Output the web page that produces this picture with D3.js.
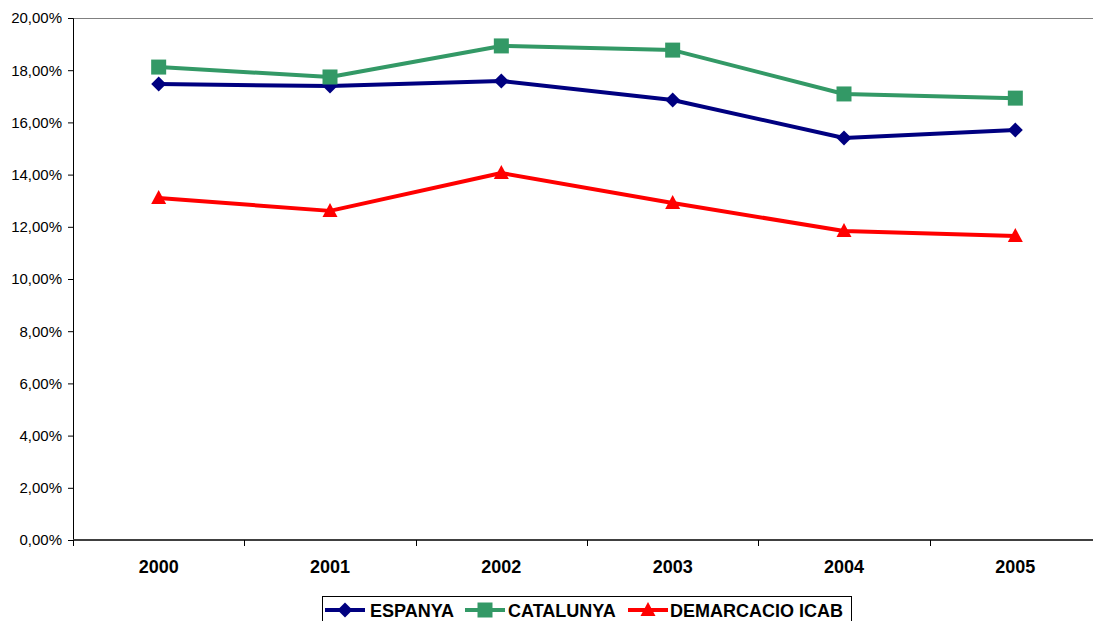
<!DOCTYPE html>
<html><head><meta charset="utf-8">
<script src="https://cdn.jsdelivr.net/npm/d3@7"></script>
<style>body{margin:0;background:#fff}svg{display:block}text{font-family:"Liberation Sans",Arial,sans-serif}</style>
</head><body><svg id="c" width="1093" height="621"></svg>
<script>
const years = ["2000","2001","2002","2003","2004","2005"];
const espanya = [17.47, 17.39, 17.59, 16.86, 15.40, 15.71];
const catalunya = [18.12, 17.74, 18.93, 18.77, 17.09, 16.93];
const demarcacio = [13.10, 12.61, 14.06, 12.91, 11.84, 11.65];
const yTicks = [0,2,4,6,8,10,12,14,16,18,20];
const seriesNames = ["ESPANYA","CATALUNYA","DEMARCACIO ICAB"];

const diamond = "M0,-7.5L7.5,0L0,7.5L-7.5,0Z";
const square = "M-7.5,-7.5H7.5V7.5H-7.5Z";
const triangle = "M0,-8L7.5,6L-7.5,6Z";
const series = [
  {name: seriesNames[0], values: espanya, color: "#000080", sym: diamond},
  {name: seriesNames[1], values: catalunya, color: "#339966", sym: square},
  {name: seriesNames[2], values: demarcacio, color: "#FF0000", sym: triangle}
];

const svg = d3.select("#c");
const L = 73, R = 1101, T = 18, B = 540;
const x = d3.scaleBand().domain(years).range([L, R]).padding(0);
const y = d3.scaleLinear().domain([0, 20]).range([B, T]);

// top border
svg.append("line").attr("x1", L).attr("x2", 1093).attr("y1", T + 0.5).attr("y2", T + 0.5)
  .attr("stroke", "#808080").attr("stroke-width", 1);

// y axis
const ya = svg.append("g").attr("transform", `translate(${L},0)`)
  .call(d3.axisLeft(y).tickValues(yTicks).tickSize(5).tickPadding(6)
    .tickFormat(d => d.toFixed(2).replace(".", ",") + "%"));
ya.select(".domain").attr("stroke", "#000").attr("stroke-width", 1);
ya.selectAll(".tick line").attr("stroke", "#000");
ya.selectAll("text").attr("font-size", 15).attr("fill", "#000")
  .attr("font-family", '"Liberation Sans", Arial, sans-serif');

// x axis
const xa = svg.append("g").attr("transform", `translate(0,${B})`)
  .call(d3.axisBottom(x).tickSize(0).tickPadding(20));
xa.select(".domain").remove();
svg.append("line").attr("x1", L).attr("x2", 1093).attr("y1", B).attr("y2", B)
  .attr("stroke", "#404040").attr("stroke-width", 2);
xa.selectAll("text").attr("font-size", 18).attr("font-weight", "bold").attr("fill", "#000")
  .attr("font-family", '"Liberation Sans", Arial, sans-serif');
// category boundary ticks
const bounds = years.slice(1).map(d => x(d));
bounds.unshift(L);
svg.append("g").selectAll("line").data(bounds).join("line")
  .attr("x1", d => Math.round(d) + 0.5).attr("x2", d => Math.round(d) + 0.5)
  .attr("y1", B).attr("y2", B + 6).attr("stroke", "#000");

const cx = d => x(d) + x.bandwidth() / 2;
const line = d3.line().x((d, i) => cx(years[i])).y(d => y(d));

series.forEach(s => {
  svg.append("path").datum(s.values).attr("d", line)
    .attr("fill", "none").attr("stroke", s.color).attr("stroke-width", 4)
    .attr("stroke-linejoin", "round");
  svg.append("g").selectAll("path").data(s.values).join("path")
    .attr("d", s.sym)
    .attr("transform", (d, i) => `translate(${cx(years[i])},${y(d)})`)
    .attr("fill", s.color);
});

// legend
const lg = svg.append("g");
lg.append("rect").attr("x", 322.5).attr("y", 596.5).attr("width", 529).attr("height", 30)
  .attr("fill", "#fff").attr("stroke", "#000");
const items = [
  {x: 325, tx: 370},
  {x: 465, tx: 508},
  {x: 628, tx: 670}
];
series.forEach((s, i) => {
  const it = items[i];
  const ly = 610;
  lg.append("line").attr("x1", it.x).attr("x2", it.x + 40).attr("y1", ly).attr("y2", ly)
    .attr("stroke", s.color).attr("stroke-width", 4);
  lg.append("path").attr("d", s.sym)
    .attr("transform", `translate(${it.x + 20},${ly})`).attr("fill", s.color);
  lg.append("text").attr("x", it.tx).attr("y", 617).text(s.name)
    .attr("font-size", 18).attr("font-weight", "bold").attr("fill", "#000");
});
</script></body></html>
